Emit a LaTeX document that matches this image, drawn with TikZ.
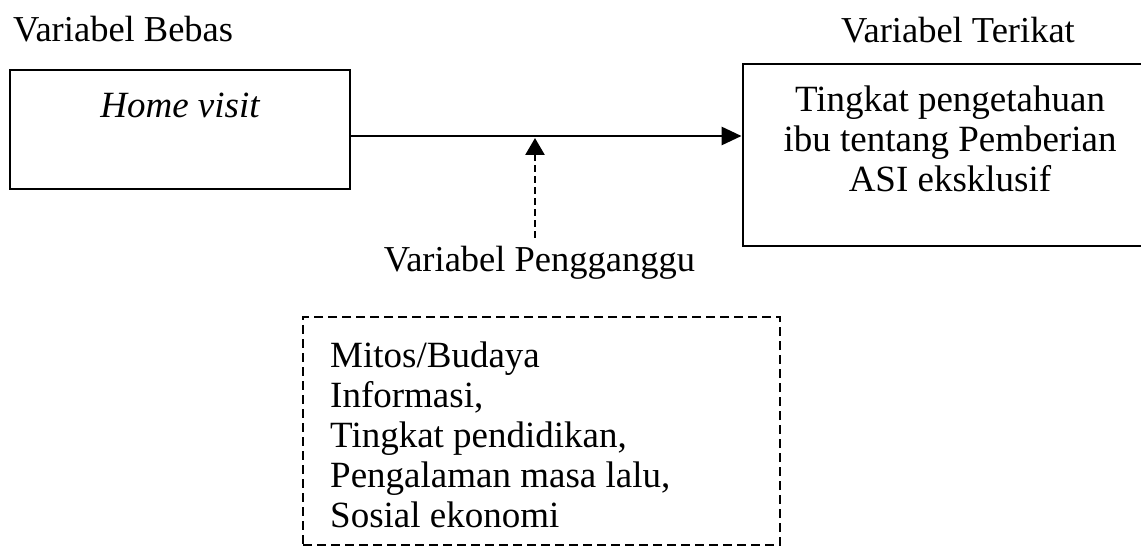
\documentclass[tikz,border=0pt]{standalone}
\usepackage{fontspec}
\setmainfont{Liberation Serif}
\usetikzlibrary{arrows.meta}
\begin{document}
\begin{tikzpicture}[x=1pt,y=-1pt,
  solidbox/.style={draw=black, line width=2.9pt, rectangle, inner sep=0pt},
  dashbox/.style={draw=black, line width=2.7pt, rectangle, inner sep=0pt, dash pattern=on 9pt off 5pt},
  lab/.style={inner sep=0pt, font=\fontsize{36.5}{40}\selectfont},
  boxtext/.style={inner sep=0pt, font=\fontsize{37}{40}\selectfont},
  mainarrow/.style={line width=2.9pt, -{Triangle[length=20pt,width=18pt]}},
  dasharrow/.style={line width=2.7pt, dash pattern=on 7pt off 4pt, -{Triangle[length=17pt,width=19pt]}}
]
\useasboundingbox (0,0) rectangle (1141,548);

% labels
\node[lab, anchor=base west] (lbebas) at (13,42) {Variabel Bebas};
\node[lab, anchor=base] (lterikat) at (958,43) {Variabel Terikat};
\node[lab, anchor=base] (lganggu) at (539.5,272) {Variabel Pengganggu};

% boxes
\node[solidbox, minimum width=340pt, minimum height=119pt] (bebasbox) at (180,129.5) {};
\node[boxtext, anchor=base] (bebastext) at (180,118) {\itshape Home visit};

\node[solidbox, minimum width=414pt, minimum height=182pt] (terikatbox) at (950,155) {};
\node[boxtext, anchor=north, align=center] (terikattext) at (950,86)
  {Tingkat pengetahuan\\ibu tentang Pemberian\\ASI eksklusif};

\node[dashbox, minimum width=477pt, minimum height=228pt] (gangbox) at (541.5,431) {};
\node[boxtext, anchor=north west, align=left] (gangtext) at (330,341.5)
  {Mitos/Budaya\\Informasi,\\Tingkat pendidikan,\\Pengalaman masa lalu,\\Sosial ekonomi};

% connectors
\coordinate (arrowy) at (0,136);
\draw[mainarrow] (bebasbox.east |- arrowy) -- (terikatbox.west |- arrowy);

\coordinate (gangsrc) at (535,238);
\coordinate (tipend) at (535,138);
\draw[dasharrow] (gangsrc) -- (tipend);
\end{tikzpicture}
\end{document}
